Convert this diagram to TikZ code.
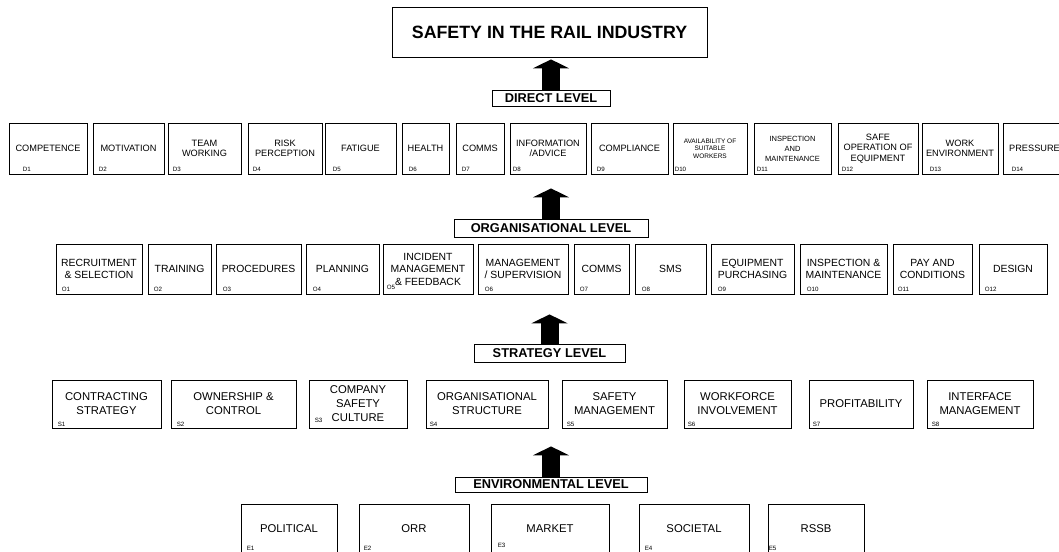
\documentclass[tikz,border=0pt]{standalone}
\usepackage{fontspec}
\setmainfont{Liberation Sans}
\usetikzlibrary{arrows.meta}
\begin{document}
\begin{tikzpicture}[x=1pt,y=-1pt,
	box/.style={draw,line width=0.8pt,align=center,inner sep=1pt},
	dbox/.style={box,minimum height=51pt,font=\fontsize{9.2}{10.5}\selectfont},
	obox/.style={box,minimum height=50pt,font=\fontsize{10.4}{12.5}\selectfont},
	sbox/.style={box,minimum height=48pt,font=\fontsize{11.3}{14}\selectfont},
	ebox/.style={box,minimum height=50pt,font=\fontsize{11.3}{14}\selectfont},
	level/.style={box,font=\bfseries\fontsize{12.8}{14}\selectfont},
	idx/.style={anchor=base west,inner sep=0pt,font=\fontsize{6.2}{7}\selectfont},
	uparrow/.style={line width=18pt,-{Triangle[width=36pt,length=9pt]}}]
		\useasboundingbox (0,0) rectangle (1059,551);
		\node[box,minimum width=315pt,minimum height=50pt,font=\bfseries\fontsize{17.8}{20}\selectfont] (title) at (549.5,32) {SAFETY IN THE RAIL INDUSTRY};
		\node[level,minimum width=118pt,minimum height=16pt] (dlev) at (551,98) {DIRECT LEVEL};
		\node[level,minimum width=194pt,minimum height=18pt] (olev) at (551,228) {ORGANISATIONAL LEVEL};
		\node[level,minimum width=151pt,minimum height=18pt] (slev) at (549.5,353) {STRATEGY LEVEL};
		\node[level,minimum width=192pt,minimum height=15pt] (elev) at (551,484.5) {ENVIRONMENTAL LEVEL};
		\node[dbox,minimum width=78pt] (d1) at (48,148.5) {COMPETENCE};
		\node[dbox,minimum width=71pt] (d2) at (128.5,148.5) {MOTIVATION};
		\node[dbox,minimum width=73pt] (d3) at (204.5,148.5) {TEAM\\WORKING};
		\node[dbox,minimum width=74pt] (d4) at (285,148.5) {RISK\\PERCEPTION};
		\node[dbox,minimum width=71pt] (d5) at (360.5,148.5) {FATIGUE};
		\node[dbox,minimum width=47pt] (d6) at (425.5,148.5) {HEALTH};
		\node[dbox,minimum width=48pt] (d7) at (480,148.5) {COMMS};
		\node[dbox,minimum width=76pt] (d8) at (548,148.5) {INFORMATION\\/ADVICE};
		\node[dbox,minimum width=77pt] (d9) at (629.5,148.5) {COMPLIANCE};
		\node[dbox,minimum width=74pt,font=\fontsize{6.5}{7.5}\selectfont] (d10) at (710,148.5) {AVAILABILITY OF\\SUITABLE\\WORKERS};
		\node[dbox,minimum width=77pt,font=\fontsize{7.5}{10}\selectfont] (d11) at (792.5,148.5) {INSPECTION\\AND\\MAINTENANCE};
		\node[dbox,minimum width=80pt] (d12) at (878,148.5) {SAFE\\OPERATION OF\\EQUIPMENT};
		\node[dbox,minimum width=76pt] (d13) at (960,148.5) {WORK\\ENVIRONMENT};
		\node[dbox,minimum width=63pt] (d14) at (1034.5,148.5) {PRESSURE};
		\node[idx] at ([xshift=14pt,yshift=3pt]d1.south west) {D1};
		\node[idx] at ([xshift=6pt,yshift=3pt]d2.south west) {D2};
		\node[idx] at ([xshift=5pt,yshift=3pt]d3.south west) {D3};
		\node[idx] at ([xshift=5pt,yshift=3pt]d4.south west) {D4};
		\node[idx] at ([xshift=8pt,yshift=3pt]d5.south west) {D5};
		\node[idx] at ([xshift=7pt,yshift=3pt]d6.south west) {D6};
		\node[idx] at ([xshift=6pt,yshift=3pt]d7.south west) {D7};
		\node[idx] at ([xshift=3pt,yshift=3pt]d8.south west) {D8};
		\node[idx] at ([xshift=6pt,yshift=3pt]d9.south west) {D9};
		\node[idx] at ([xshift=2pt,yshift=3pt]d10.south west) {D10};
		\node[idx] at ([xshift=3pt,yshift=3pt]d11.south west) {D11};
		\node[idx] at ([xshift=4pt,yshift=3pt]d12.south west) {D12};
		\node[idx] at ([xshift=8pt,yshift=3pt]d13.south west) {D13};
		\node[idx] at ([xshift=9pt,yshift=3pt]d14.south west) {D14};
		\node[obox,minimum width=86pt] (o1) at (99,269) {RECRUITMENT\\\& SELECTION};
		\node[obox,minimum width=63pt] (o2) at (179.5,269) {TRAINING};
		\node[obox,minimum width=85pt] (o3) at (258.5,269) {PROCEDURES};
		\node[obox,minimum width=73pt] (o4) at (342.5,269) {PLANNING};
		\node[obox,minimum width=90pt] (o5) at (428,269) {INCIDENT\\MANAGEMENT\\\& FEEDBACK};
		\node[obox,minimum width=90pt] (o6) at (523,269) {MANAGEMENT\\/ SUPERVISION};
		\node[obox,minimum width=55pt] (o7) at (601.5,269) {COMMS};
		\node[obox,minimum width=71pt] (o8) at (670.5,269) {SMS};
		\node[obox,minimum width=83pt] (o9) at (752.5,269) {EQUIPMENT\\PURCHASING};
		\node[obox,minimum width=87pt] (o10) at (843.5,269) {INSPECTION \&\\MAINTENANCE};
		\node[obox,minimum width=79pt] (o11) at (932.5,269) {PAY AND\\CONDITIONS};
		\node[obox,minimum width=68pt] (o12) at (1013,269) {DESIGN};
		\node[idx] at ([xshift=6pt,yshift=3pt]o1.south west) {O1};
		\node[idx] at ([xshift=6pt,yshift=3pt]o2.south west) {O2};
		\node[idx] at ([xshift=7pt,yshift=3pt]o3.south west) {O3};
		\node[idx] at ([xshift=7pt,yshift=3pt]o4.south west) {O4};
		\node[idx] at ([xshift=4pt,yshift=5pt]o5.south west) {O5};
		\node[idx] at ([xshift=7pt,yshift=3pt]o6.south west) {O6};
		\node[idx] at ([xshift=6pt,yshift=3pt]o7.south west) {O7};
		\node[idx] at ([xshift=7pt,yshift=3pt]o8.south west) {O8};
		\node[idx] at ([xshift=7pt,yshift=3pt]o9.south west) {O9};
		\node[idx] at ([xshift=7pt,yshift=3pt]o10.south west) {O10};
		\node[idx] at ([xshift=5pt,yshift=3pt]o11.south west) {O11};
		\node[idx] at ([xshift=6pt,yshift=3pt]o12.south west) {O12};
		\node[sbox,minimum width=109pt] (s1) at (106.5,404) {CONTRACTING\\STRATEGY};
		\node[sbox,minimum width=125pt] (s2) at (233.5,404) {OWNERSHIP \&\\CONTROL};
		\node[sbox,minimum width=98pt] (s3) at (358,404) {COMPANY\\SAFETY\\CULTURE};
		\node[sbox,minimum width=122pt] (s4) at (487,404) {ORGANISATIONAL\\STRUCTURE};
		\node[sbox,minimum width=105pt] (s5) at (614.5,404) {SAFETY\\MANAGEMENT};
		\node[sbox,minimum width=107pt] (s6) at (737.5,404) {WORKFORCE\\INVOLVEMENT};
		\node[sbox,minimum width=104pt] (s7) at (861,404) {PROFITABILITY};
		\node[sbox,minimum width=106pt] (s8) at (980,404) {INTERFACE\\MANAGEMENT};
		\node[idx] at ([xshift=6pt,yshift=2pt]s1.south west) {S1};
		\node[idx] at ([xshift=6pt,yshift=2pt]s2.south west) {S2};
		\node[idx] at ([xshift=6pt,yshift=6pt]s3.south west) {S3};
		\node[idx] at ([xshift=4pt,yshift=2pt]s4.south west) {S4};
		\node[idx] at ([xshift=5pt,yshift=2pt]s5.south west) {S5};
		\node[idx] at ([xshift=4pt,yshift=2pt]s6.south west) {S6};
		\node[idx] at ([xshift=4pt,yshift=2pt]s7.south west) {S7};
		\node[idx] at ([xshift=5pt,yshift=2pt]s8.south west) {S8};
		\node[ebox,minimum width=96pt] (e1) at (289,529) {POLITICAL};
		\node[ebox,minimum width=110pt] (e2) at (414,529) {ORR};
		\node[ebox,minimum width=118pt] (e3) at (550,529) {MARKET};
		\node[ebox,minimum width=110pt] (e4) at (694,529) {SOCIETAL};
		\node[ebox,minimum width=96pt] (e5) at (816,529) {RSSB};
		\node[idx] at ([xshift=6pt,yshift=4pt]e1.south west) {E1};
		\node[idx] at ([xshift=5pt,yshift=4pt]e2.south west) {E2};
		\node[idx] at ([xshift=7pt,yshift=7pt]e3.south west) {E3};
		\node[idx] at ([xshift=6pt,yshift=4pt]e4.south west) {E4};
		\node[idx] at ([xshift=1pt,yshift=4pt]e5.south west) {E5};
		\draw[uparrow,shorten >=2pt] (dlev.north) -- (dlev.north |- title.south);
		\draw[uparrow,shorten >=14pt] (olev.north) -- (olev.north |- d8.south);
		\draw[uparrow,shorten >=20pt] (slev.north) -- (slev.north |- o6.south);
		\draw[uparrow,shorten >=18pt] (elev.north) -- (elev.north |- s4.south);
\end{tikzpicture}
\end{document}
